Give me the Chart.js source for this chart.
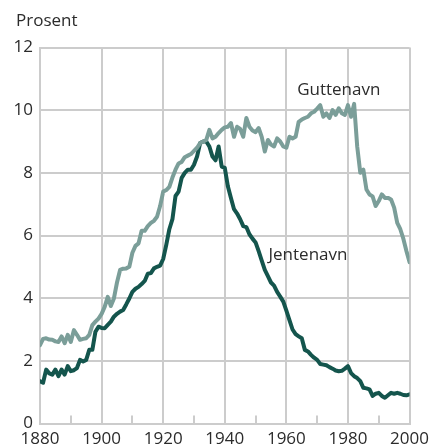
<!DOCTYPE html>
<html>
<head>
<meta charset="utf-8">
<script src="https://cdn.jsdelivr.net/npm/chart.js@4.4.1/dist/chart.umd.min.js"></script>
<style>
html,body{margin:0;padding:0;background:#fff;}
#wrap{width:434px;height:446px;position:relative;}
</style>
</head>
<body>
<div id="wrap"><canvas id="c" width="434" height="446"></canvas></div>
<script>
// Years 1880..2000
const startYear = 1880;
const guttenavn = [
2.50,2.70,2.72,2.68,2.67,2.62,2.60,2.78,2.56,2.83,
2.60,2.98,2.83,2.67,2.70,2.72,2.83,3.14,3.25,3.35,
3.50,3.72,4.04,3.75,3.99,4.50,4.90,4.94,4.95,5.00,
5.45,5.67,5.75,6.15,6.15,6.30,6.40,6.47,6.60,6.94,
7.40,7.45,7.55,7.85,8.10,8.30,8.35,8.50,8.55,8.60,
8.70,8.80,8.95,9.00,9.05,9.37,9.10,9.15,9.27,9.37,
9.45,9.47,9.59,9.15,9.47,9.40,9.15,9.75,9.47,9.35,
9.30,9.43,9.15,8.68,9.05,8.90,8.84,9.10,9.00,8.84,
8.80,9.15,9.10,9.15,9.63,9.70,9.75,9.79,9.90,9.95,
10.05,10.16,9.79,9.90,9.75,10.00,9.85,10.06,9.90,9.85,
10.16,9.79,10.20,8.84,8.00,8.10,7.47,7.31,7.25,6.94,
7.10,7.31,7.20,7.20,7.15,6.89,6.40,6.20,5.89,5.50,
5.15
];
const jentenavn = [
1.35,1.30,1.72,1.60,1.56,1.72,1.51,1.72,1.56,1.83,
1.67,1.70,1.77,2.03,1.98,2.03,2.35,2.35,2.93,3.09,
3.05,3.04,3.15,3.25,3.41,3.50,3.57,3.62,3.80,3.99,
4.20,4.30,4.36,4.45,4.55,4.78,4.80,4.95,5.00,5.04,
5.25,5.70,6.20,6.52,7.26,7.40,7.84,8.00,8.10,8.10,
8.26,8.52,8.95,9.00,9.00,8.84,8.52,8.40,8.84,8.20,
8.16,7.57,7.20,6.84,6.70,6.52,6.30,6.27,6.04,5.90,
5.78,5.50,5.20,4.90,4.70,4.50,4.40,4.20,4.05,3.89,
3.60,3.30,3.00,2.85,2.78,2.72,2.35,2.30,2.19,2.10,
2.03,1.90,1.88,1.86,1.80,1.75,1.69,1.67,1.68,1.75,
1.83,1.61,1.51,1.45,1.35,1.14,1.12,1.09,0.88,0.95,
0.98,0.88,0.82,0.90,0.98,0.95,0.98,0.95,0.91,0.90,
0.93
];
const years = guttenavn.map((_, i) => startYear + i);
const xTicks = [1880, 1900, 1920, 1940, 1960, 1980, 2000];
const yTicks = [0, 2, 4, 6, 8, 10, 12];
const yTitle = 'Prosent';
const seriesLabels = ['Guttenavn', 'Jentenavn'];
const labelAnchors = [{x: 1963.5, y: 10.63}, {x: 1954.2, y: 5.38}];

const FONT = '"Open Sans", sans-serif';
const TXT = '#2b2b2b';
const GRID = '#cccccc';

const annot = {
  id: 'annot',
  afterDraw(chart) {
    const ctx = chart.ctx;
    const xs = chart.scales.x, ys = chart.scales.y;
    ctx.save();
    // minor inward ticks at 10-year positions
    ctx.strokeStyle = GRID;
    ctx.lineWidth = 2;
    for (let yr = xTicks[0] + 10; yr < xTicks[xTicks.length - 1]; yr += 20) {
      const px = Math.round(xs.getPixelForValue(yr));
      ctx.beginPath();
      ctx.moveTo(px, chart.chartArea.bottom);
      ctx.lineTo(px, chart.chartArea.bottom - 8);
      ctx.stroke();
    }
    ctx.fillStyle = TXT;
    ctx.font = '17px ' + FONT;
    ctx.textBaseline = 'middle';
    ctx.textAlign = 'left';
    ctx.fillText(yTitle, 16, 21);
    seriesLabels.forEach((t, i) => {
      ctx.fillText(t, xs.getPixelForValue(labelAnchors[i].x), ys.getPixelForValue(labelAnchors[i].y));
    });
    ctx.restore();
  }
};

new Chart(document.getElementById('c'), {
  type: 'line',
  data: {
    datasets: [
      {
        label: seriesLabels[0],
        data: years.map((y, i) => ({x: y, y: guttenavn[i]})),
        borderColor: '#7b9e99',
        borderWidth: 4,
        pointRadius: 0,
        tension: 0,
        borderJoinStyle: 'round',
        borderCapStyle: 'round'
      },
      {
        label: seriesLabels[1],
        data: years.map((y, i) => ({x: y, y: jentenavn[i]})),
        borderColor: '#14554d',
        borderWidth: 4,
        pointRadius: 0,
        tension: 0,
        borderJoinStyle: 'round',
        borderCapStyle: 'round'
      }
    ]
  },
  options: {
    responsive: false,
    animation: false,
    layout: {padding: {top: 47.5, right: 21.5, left: 0, bottom: 0}},
    plugins: {legend: {display: false}, tooltip: {enabled: false}, title: {display: false}},
    scales: {
      x: {
        type: 'linear',
        min: xTicks[0],
        max: xTicks[xTicks.length - 1],
        afterBuildTicks: (s) => { s.ticks = xTicks.map(v => ({value: v})); },
        afterFit: (s) => { s.height = 22.5; },
        grid: {color: GRID, lineWidth: 2, drawTicks: false},
        border: {display: true, color: GRID, width: 2},
        ticks: {color: TXT, font: {family: FONT, size: 17}, padding: 5, maxRotation: 0, autoSkip: false,
                callback: (v) => String(v)}
      },
      y: {
        min: yTicks[0],
        max: yTicks[yTicks.length - 1],
        afterBuildTicks: (s) => { s.ticks = yTicks.map(v => ({value: v})); },
        afterFit: (s) => { s.width = 40; },
        grid: {color: GRID, lineWidth: 2, drawTicks: false},
        border: {display: true, color: GRID, width: 2},
        ticks: {color: TXT, font: {family: FONT, size: 17}, padding: 7, callback: (v) => String(v)}
      }
    }
  },
  plugins: [annot]
});
</script>
</body>
</html>
